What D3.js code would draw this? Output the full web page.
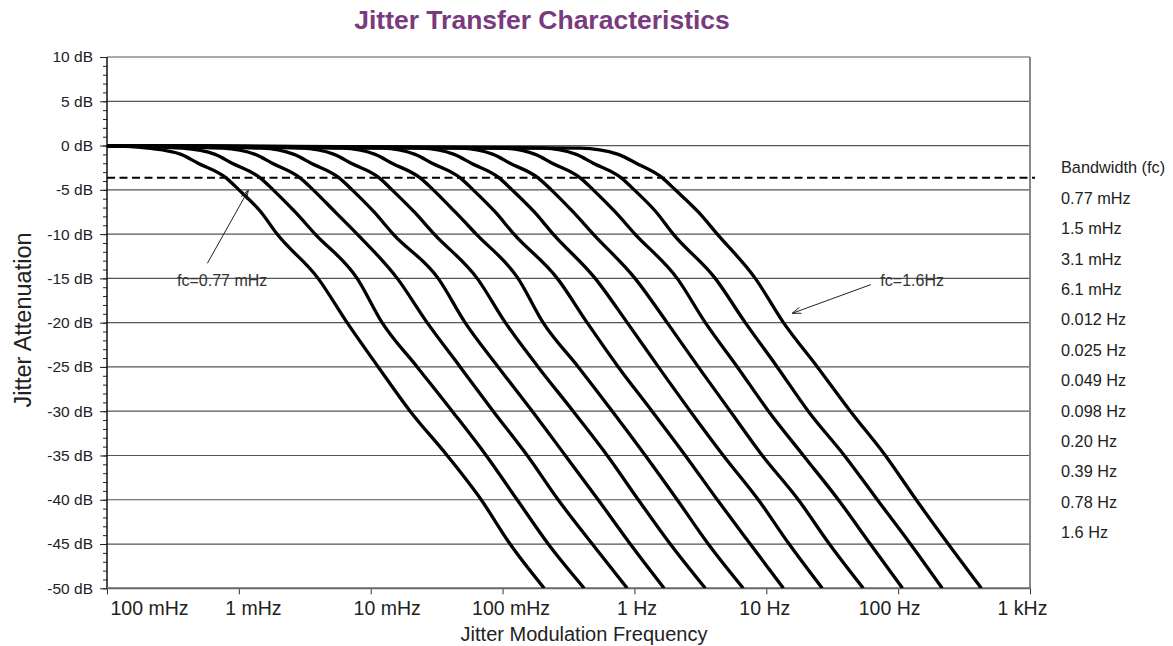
<!DOCTYPE html>
<html><head><meta charset="utf-8">
<script src="https://cdn.jsdelivr.net/npm/d3@7/dist/d3.min.js"></script>
<style>
body{margin:0;background:#fff;}
text{font-family:"Liberation Sans",Arial,Helvetica,sans-serif;}
</style>
</head><body>
<svg id="chart" width="1173" height="646"></svg>
<script>
// ---------------- data ----------------
const chartTitle = "Jitter Transfer Characteristics";
const bandwidthLabels = ["0.77 mHz","1.5 mHz","3.1 mHz","6.1 mHz","0.012 Hz","0.025 Hz","0.049 Hz","0.098 Hz","0.20 Hz","0.39 Hz","0.78 Hz","1.6 Hz"];
const xTickValues = [1e-4, 1e-3, 1e-2, 1e-1, 1, 10, 100, 1000];
const xTickLabels = ["100 mHz","1 mHz","10 mHz","100 mHz","1 Hz","10 Hz","100 Hz","1 kHz"];
const yTickValues = [10,5,0,-5,-10,-15,-20,-25,-30,-35,-40,-45,-50];
const bandwidthDb = -3.65;   // dashed reference level
// attenuation levels (dB) at which each curve's frequency was read
const dbLevels = [0,-0.3,-1,-2,-3.65,-5,-7.5,-10,-15,-20,-25,-30,-35,-40,-45,-50];
// frequency (Hz) of each curve at the dbLevels above
const curve_077mHz = [1e-4,2.05e-4,3.64e-4,4.90e-4,8.0e-4,1.00e-3,1.47e-3,1.95e-3,3.99e-3,6.62e-3,0.0114,0.0199,0.0380,0.0688,0.114,0.207];
const curve_15mHz  = [1e-4,3.71e-4,6.60e-4,8.88e-4,1.45e-3,1.82e-3,2.67e-3,3.79e-3,7.89e-3,0.0122,0.0225,0.0415,0.0751,0.129,0.222,0.416];
const curve_31mHz  = [1e-4,7.46e-4,1.33e-3,1.79e-3,2.91e-3,3.66e-3,5.37e-3,7.89e-3,0.0159,0.0268,0.0477,0.0849,0.154,0.264,0.479,0.882];
const curve_61mHz  = [1e-4,1.47e-3,2.62e-3,3.53e-3,5.76e-3,7.23e-3,0.0106,0.0148,0.0325,0.0520,0.0926,0.168,0.299,0.531,0.930,1.68];
const curve_012Hz  = [1e-4,2.96e-3,5.28e-3,7.10e-3,0.0116,0.0145,0.0214,0.0303,0.0642,0.105,0.186,0.343,0.622,1.07,1.87,3.45];
const curve_025Hz  = [1e-4,6.07e-3,0.0108,0.0145,0.0237,0.0298,0.0437,0.0631,0.131,0.203,0.375,0.679,1.21,2.11,3.63,6.69];
const curve_049Hz  = [1e-4,0.0122,0.0217,0.0292,0.0477,0.0598,0.0879,0.122,0.260,0.438,0.754,1.36,2.43,4.25,7.56,13.5];
const curve_098Hz  = [1e-4,0.0241,0.0429,0.0578,0.0942,0.118,0.174,0.242,0.504,0.882,1.52,2.65,4.72,8.70,14.9,26.6];
const curve_020Hz  = [1e-4,0.0477,0.0849,0.114,0.186,0.234,0.343,0.487,1.01,1.77,3.05,5.33,9.33,17.5,30.1,54.4];
const curve_039Hz  = [1e-4,0.0993,0.177,0.238,0.388,0.487,0.715,1.01,2.11,3.45,6.03,10.4,19.1,35.2,61.5,108];
const curve_078Hz  = [1e-4,0.203,0.362,0.487,0.794,0.997,1.46,1.97,4.10,6.93,12.1,20.8,39.1,69.5,124,216];
const curve_16Hz   = [1e-4,0.388,0.754,1.03,1.63,2.04,3.05,4.25,8.25,13.5,24.4,43.4,80.0,137,240,428];
const curves = [curve_077mHz,curve_15mHz,curve_31mHz,curve_61mHz,curve_012Hz,curve_025Hz,
                curve_049Hz,curve_098Hz,curve_020Hz,curve_039Hz,curve_078Hz,curve_16Hz];
// annotations: text anchor, arrow tail, arrow tip (Hz, dB)
const annotationLabels = ["fc=0.77 mHz","fc=1.6Hz"];
const annotationText = [[3.40e-4,-15.9],[73.3,-15.86]];
const annotationTail = [[5.77e-4,-13.3],[62.2,-15.7]];
const annotationTip  = [[1.18e-3,-5.05],[15.7,-18.95]];

// ---------------- layout ----------------
const svg = d3.select("#chart");
const L = 107, R = 1030, T = 57, B = 588.3;
const x = d3.scaleLog().domain([1e-4,1e3]).range([L,R]);
const y = d3.scaleLinear().domain([-50,10]).range([B,T]);
const FONT = '"Liberation Sans",Arial,sans-serif';

// title
svg.append("text").attr("x",542).attr("y",29).attr("text-anchor","middle")
  .attr("font-size",26.5).attr("font-weight","bold").attr("fill","#7a3b7e")
  .text(chartTitle);

// gridlines
svg.append("g").selectAll("line").data(yTickValues.filter(d=>d>-50)).join("line")
  .attr("x1",L).attr("x2",R).attr("y1",d=>y(d)).attr("y2",d=>y(d))
  .attr("stroke","#555").attr("stroke-width",1.2);

// right border
svg.append("line").attr("x1",R).attr("x2",R).attr("y1",T).attr("y2",B)
  .attr("stroke","#888").attr("stroke-width",2);

// minor y ticks
const minor = svg.append("g").attr("transform",`translate(${L},0)`)
  .call(d3.axisLeft(y).tickValues(d3.range(-50,11,1)).tickSize(4).tickFormat(""));
minor.select(".domain").remove();
minor.selectAll("line").attr("stroke","#222");

// major y axis
const yAx = svg.append("g").attr("transform",`translate(${L},0)`)
  .call(d3.axisLeft(y).tickValues(yTickValues).tickSize(7).tickFormat(d=>d+" dB"));
yAx.select(".domain").remove();
yAx.selectAll("line").attr("stroke","#222");
yAx.selectAll("text").attr("x",-14).attr("font-size",15.5).attr("fill","#222")
  .style("font-family",FONT);
svg.append("line").attr("x1",L).attr("x2",L).attr("y1",T).attr("y2",B)
  .attr("stroke","#111").attr("stroke-width",1.5);

// x axis
const xAx = svg.append("g").attr("transform",`translate(0,${B})`)
  .call(d3.axisBottom(x).tickValues(xTickValues).tickSize(6).tickFormat((d,i)=>xTickLabels[i]));
xAx.select(".domain").remove();
xAx.selectAll("line").attr("stroke","#333");
const labelNudge = [0,14,16,8,2,-2,-9,-8];
xAx.selectAll("text").attr("y",27).attr("dy",0).attr("font-size",19.5).attr("fill","#222")
  .style("font-family",FONT)
  .attr("text-anchor",(d,i)=> i===0 ? "start" : "middle")
  .attr("x",(d,i)=> i===0 ? 3 : labelNudge[i]);
svg.append("line").attr("x1",L).attr("x2",R).attr("y1",B).attr("y2",B)
  .attr("stroke","#666").attr("stroke-width",2);

// axis titles
svg.append("text").attr("x",584).attr("y",641).attr("text-anchor","middle")
  .attr("font-size",20).attr("fill","#222").text("Jitter Modulation Frequency");
svg.append("text").attr("transform","translate(31,320) rotate(-90)").attr("text-anchor","middle")
  .attr("font-size",23.5).attr("fill","#222").text("Jitter Attenuation");

// dashed bandwidth line
svg.append("line").attr("x1",L).attr("x2",R+5).attr("y1",y(bandwidthDb)).attr("y2",y(bandwidthDb))
  .attr("stroke","#000").attr("stroke-width",2).attr("stroke-dasharray","8,4.5");

// curves
svg.append("clipPath").attr("id","clip").append("rect")
  .attr("x",L).attr("y",T-5).attr("width",R-L).attr("height",B-T+5);
const line = d3.line().x(d=>x(d[0])).y(d=>y(d[1])).curve(d3.curveMonotoneX);
svg.append("g").attr("clip-path","url(#clip)").selectAll("path")
  .data(curves.map(c=>c.map((f,i)=>[f,dbLevels[i]])))
  .join("path").attr("d",line).attr("fill","none").attr("stroke","#000")
  .attr("stroke-width",3.3).attr("stroke-linejoin","round");

// legend
const lg = svg.append("g");
lg.append("text").attr("x",1061).attr("y",173.3).attr("font-size",16.3).attr("fill","#222").text("Bandwidth (fc)");
lg.selectAll("text.item").data(bandwidthLabels).join("text").attr("class","item")
  .attr("x",1061).attr("y",(d,i)=>173.3+(i+1)*30.4).attr("font-size",16.3).attr("fill","#222").text(d=>d);

// annotations
const defs = svg.append("defs");
defs.append("marker").attr("id","arr").attr("viewBox","0 0 10 10").attr("refX",10).attr("refY",5)
  .attr("markerWidth",9).attr("markerHeight",9).attr("orient","auto")
  .append("path").attr("d","M0,1.5 L10,5 L0,8.5").attr("fill","none").attr("stroke","#222").attr("stroke-width",1);
annotationLabels.forEach((lab,i)=>{
  svg.append("line")
    .attr("x1",x(annotationTail[i][0])).attr("y1",y(annotationTail[i][1]))
    .attr("x2",x(annotationTip[i][0])).attr("y2",y(annotationTip[i][1]))
    .attr("stroke","#222").attr("stroke-width",1).attr("marker-end","url(#arr)");
  svg.append("text").attr("x",x(annotationText[i][0])).attr("y",y(annotationText[i][1]))
    .attr("font-size",16).attr("fill","#333").text(lab);
});
</script>
</body></html>
